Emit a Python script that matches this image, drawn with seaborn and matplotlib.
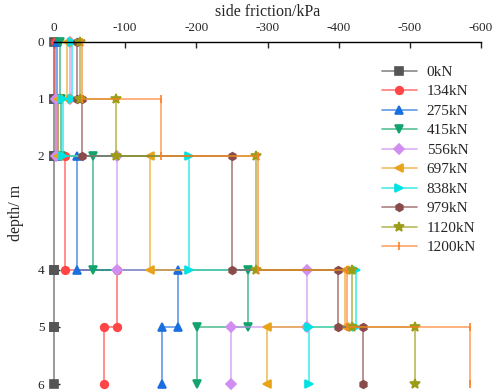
"""
Side friction vs depth under staged pile-head loads (step profile per layer).
"""

import matplotlib

matplotlib.use("Agg")
import matplotlib.pyplot as plt
import numpy as np
import pandas as pd
import seaborn as sns
from matplotlib.colors import to_rgba

# layer boundaries (m) and friction per layer (kPa), layers 0-1, 1-2, 2-4, 4-5, 5-6
DEPTHS = [0, 1, 2, 4, 5, 6]
LOADS = ["0kN", "134kN", "275kN", "415kN", "556kN", "697kN", "838kN", "979kN", "1120kN", "1200kN"]
LAYER_0_1 = [0, -2, -4, -9, -22, -18, -26, -33, -37, -40]
LAYER_1_2 = [0, -3, -5, -10, -3, -6, -13, -39, -87, -150]
LAYER_2_4 = [0, -15, -33, -55, -88, -135, -190, -250, -284, -286]
LAYER_4_5 = [0, -88, -174, -273, -355, -409, -425, -399, -419, -411]
LAYER_5_6 = [0, -70, -152, -201, -249, -299, -358, -434, -507, -584]

COLORS = ["#555555", "#ff4545", "#1a6fe0", "#12a46c", "#cf8ef0",
          "#e8a31a", "#00e3e3", "#8a4b4b", "#9c9c16", "#ff7f2a"]
MARKERS = ["s", "o", "^", "v", "D", "<", ">", "h", "*", "|"]
MSIZES = [5.5, 5.5, 6, 6, 4.8, 6, 6, 5.5, 7, 6]

layers = np.array([LAYER_0_1, LAYER_1_2, LAYER_2_4, LAYER_4_5, LAYER_5_6]).T

rows = []
for load, vals in zip(LOADS, layers):
    # each layer: vertical segment from its top to its bottom at constant friction
    for i, v in enumerate(vals):
        rows.append({"load": load, "friction": v, "depth": DEPTHS[i]})
        rows.append({"load": load, "friction": v, "depth": DEPTHS[i + 1]})
df = pd.DataFrame(rows)

sns.set_style("white")
plt.rcParams["font.family"] = ["Liberation Serif", "DejaVu Serif"]
plt.rcParams["axes.unicode_minus"] = False

fig = plt.figure(figsize=(4.98, 3.92), dpi=100)
ax = fig.add_axes([0.1084, 0.0204, 0.8575, 0.8725])

for load, color, marker, ms in zip(LOADS, COLORS, MARKERS, MSIZES):
    sub = df[df["load"] == load]
    sns.lineplot(
        data=sub, x="friction", y="depth", sort=False, estimator=None,
        color=color, marker=marker, markersize=ms, linewidth=1.2,
        markerfacecolor=color, markeredgecolor=color, markeredgewidth=1.2,
        label=load, ax=ax, clip_on=False,
    )

for ln in ax.lines:
    ln.set_color(to_rgba(ln.get_markerfacecolor(), 0.7))

ax.set_xlim(0, -600)
ax.set_ylim(6, 0)
ax.set_xticks(range(0, -601, -100))
ax.set_yticks(DEPTHS)
ax.xaxis.tick_top()
ax.xaxis.set_label_position("top")
ax.tick_params(axis="x", direction="in", length=4, width=1, pad=6, labelsize=9.5)
ax.tick_params(axis="y", direction="in", length=4, width=1, pad=7, labelsize=9.5, left=True)
for side in ["right", "bottom", "left"]:
    ax.spines[side].set_visible(False)
ax.spines["top"].set_color("black")
ax.spines["top"].set_linewidth(1)

ax.set_xlabel("side friction/kPa", fontsize=11.5, labelpad=4)
ax.set_ylabel("depth/ m", fontsize=11.5, labelpad=10)

handles, labels = ax.get_legend_handles_labels()
ax.legend(
    handles, labels, loc="upper left", bbox_to_anchor=(0.751, 0.853),
    bbox_transform=fig.transFigure, frameon=False, fontsize=11,
    borderpad=0, labelspacing=0.38, handlelength=2.3, handletextpad=0.65,
)

fig.savefig("out.png", dpi=100)
plt.close(fig)
